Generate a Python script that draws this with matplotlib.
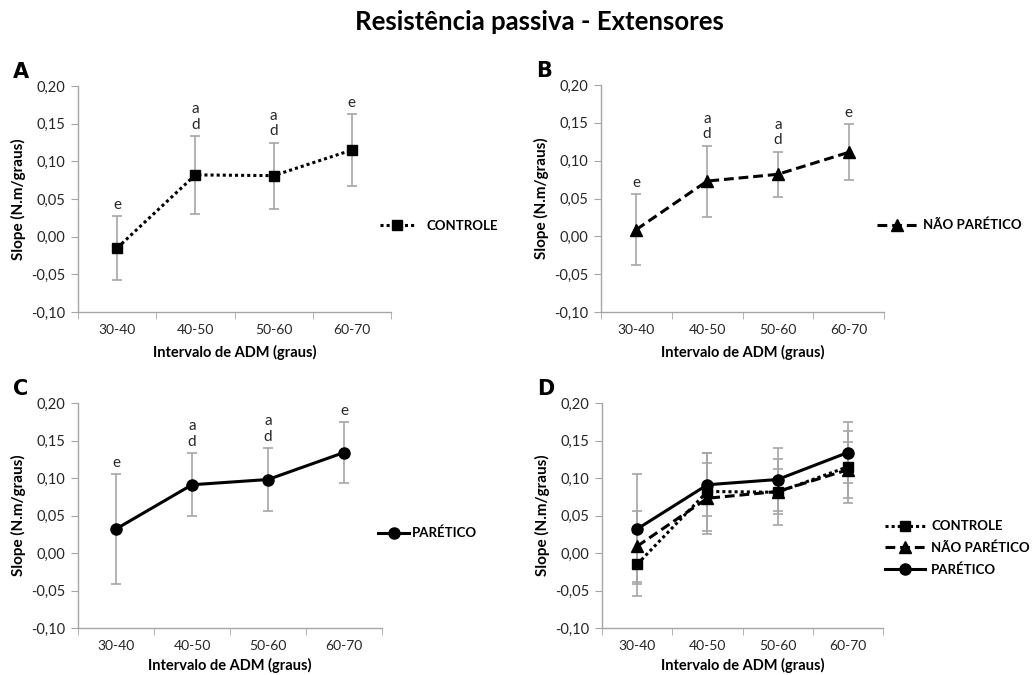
import matplotlib
matplotlib.use("Agg")
import matplotlib.pyplot as plt
import numpy as np

plt.rcParams['font.family'] = ['Lato', 'DejaVu Sans']

categories = ["30-40", "40-50", "50-60", "60-70"]
controle = [-0.015, 0.082, 0.081, 0.115]
controle_err = [0.042, 0.052, 0.044, 0.048]
nao_paretico = [0.009, 0.073, 0.082, 0.111]
nao_paretico_err = [0.047, 0.047, 0.030, 0.037]
paretico = [0.032, 0.091, 0.098, 0.134]
paretico_err = [0.073, 0.042, 0.042, 0.041]
letters = ["e", "a\nd", "a\nd", "e"]
yticks = [-0.10, -0.05, 0.00, 0.05, 0.10, 0.15, 0.20]
ytick_labels = ["-0,10", "-0,05", "0,00", "0,05", "0,10", "0,15", "0,20"]

W, H = 1035, 675
fig = plt.figure(figsize=(W / 100, H / 100), dpi=100)

def px_axes(left, right, top, bottom):
    return fig.add_axes([left / W, 1 - bottom / H, (right - left) / W, (bottom - top) / H])

GRAY = '#a6a6a6'
TXT = '#262626'
styles = {
    'CONTROLE': dict(ls=(0, (1, 1)), marker='s', ms=7, lw=2.2),
    'NÃO PARÉTICO': dict(ls=(0, (3.2, 1.6)), marker='^', ms=8.5, lw=2.2),
    'PARÉTICO': dict(ls='-', marker='o', ms=8, lw=2.2),
}
series = {
    'CONTROLE': (controle, controle_err),
    'NÃO PARÉTICO': (nao_paretico, nao_paretico_err),
    'PARÉTICO': (paretico, paretico_err),
}

def setup(ax, letter, xlabelpad):
    x = np.arange(len(categories))
    ax.set_xlim(-0.5, len(categories) - 0.5)
    ax.set_ylim(-0.10, 0.20)
    ax.set_yticks(yticks)
    ax.set_yticklabels(ytick_labels, fontsize=10.5, color=TXT)
    ax.set_xticks(x)
    ax.set_xticklabels(categories, fontsize=10, color=TXT)
    ax.set_xticks(np.arange(-0.5, len(categories)), minor=True)
    ax.tick_params(axis='x', which='major', length=0, pad=9)
    ax.tick_params(axis='x', which='minor', length=5, color=GRAY, direction='out')
    ax.tick_params(axis='y', length=5, color=GRAY, direction='out', pad=4)
    for s in ['top', 'right']:
        ax.spines[s].set_visible(False)
    for s in ['left', 'bottom']:
        ax.spines[s].set_color(GRAY)
        ax.spines[s].set_linewidth(1)
    ax.set_ylabel('Slope (N.m/graus)', fontsize=11, fontweight='bold', labelpad=4)
    ax.set_xlabel('Intervalo de ADM (graus)', fontsize=10.5, fontweight='bold',
                  labelpad=xlabelpad)
    ax.patch.set_alpha(0)
    bb = ax.get_position()
    fig.text(bb.x0 - 65 / W, bb.y1 + 4 / H, letter, fontsize=15, fontweight='heavy',
             family='DejaVu Sans', ha='left', va='bottom')

def plot_series(ax, name, annotate=False):
    vals, errs = series[name]
    x = np.arange(len(categories))
    ax.errorbar(x, vals, yerr=errs, fmt='none', ecolor=GRAY, elinewidth=1.2,
                capsize=3.5, capthick=1.2, zorder=2)
    st = styles[name]
    ax.plot(x, vals, color='black', linestyle=st['ls'], lw=st['lw'],
            marker=st['marker'], ms=st['ms'], mfc='black', mec='black',
            zorder=3, label=name)
    if annotate:
        for xi, v, e, t in zip(x, vals, errs, letters):
            ax.annotate(t, (xi, v + e), xytext=(0, 3), textcoords='offset points',
                        ha='center', va='bottom', fontsize=11, linespacing=1.15,
                        color=TXT)

def add_legend(ax, x_px, y_px, handlelength, handletextpad, labelspacing=0.5):
    ax.legend(loc='center left', bbox_to_anchor=(x_px / W, 1 - y_px / H),
              bbox_transform=fig.transFigure, frameon=False,
              prop={'weight': 'bold', 'size': 9.5}, handlelength=handlelength,
              handletextpad=handletextpad, borderpad=0, borderaxespad=0,
              labelspacing=labelspacing)

# Panel A
axA = px_axes(78, 391, 86, 312)
setup(axA, 'A', 6)
plot_series(axA, 'CONTROLE', True)
add_legend(axA, 380, 226, 2.65, 0.9)

# Panel B
axB = px_axes(601, 884, 85, 312)
setup(axB, 'B', 6)
plot_series(axB, 'NÃO PARÉTICO', True)
add_legend(axB, 877, 225, 3.1, 0.4)

# Panel C
axC = px_axes(78, 382, 403, 628)
setup(axC, 'C', 4)
plot_series(axC, 'PARÉTICO', True)
add_legend(axC, 378, 533, 2.35, 0.2)

# Panel D
axD = px_axes(602, 883, 403, 628)
setup(axD, 'D', 4)
for name in ['CONTROLE', 'NÃO PARÉTICO', 'PARÉTICO']:
    plot_series(axD, name, False)
add_legend(axD, 885, 548, 3.0, 0.5, labelspacing=0.7)

fig.text(539 / W, 1 - 30 / H, 'Resistência passiva - Extensores', ha='center',
         va='baseline', fontsize=18.5, fontweight='bold')

fig.savefig('out.png', dpi=100)
